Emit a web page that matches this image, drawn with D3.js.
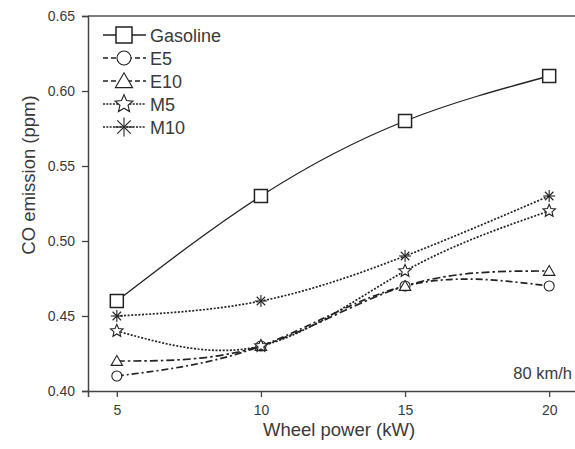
<!DOCTYPE html>
<html><head><meta charset="utf-8">
<script src="https://cdn.jsdelivr.net/npm/d3@7"></script>
<style>body{margin:0;background:#fff;} svg{display:block;font-family:"Liberation Sans",Arial,sans-serif;}</style>
</head><body>
<svg id="c" width="575" height="449"></svg>
<script>
const power = [5, 10, 15, 20];
const gasoline = [0.46, 0.53, 0.58, 0.61];
const e5 = [0.41, 0.43, 0.47, 0.47];
const e10 = [0.42, 0.43, 0.47, 0.48];
const m5 = [0.44, 0.43, 0.48, 0.52];
const m10 = [0.45, 0.46, 0.49, 0.53];
const seriesNames = ["Gasoline", "E5", "E10", "M5", "M10"];
const yTicks = [0.40, 0.45, 0.50, 0.55, 0.60, 0.65];
const xTicks = [5, 10, 15, 20];
const note = "80 km/h";

const svg = d3.select("#c");
const L = 88, T = 16, R = 578, B = 391;
const x = d3.scaleLinear().domain([4, 21]).range([L, R]);
const y = d3.scaleLinear().domain([0.40, 0.65]).range([B, T]);
const ink = "#222";
const txt = "#3a3a3a";

const series = [
  {name: seriesNames[0], vals: gasoline, dash: null, marker: "square"},
  {name: seriesNames[1], vals: e5, dash: "7,3,2,3", marker: "circle"},
  {name: seriesNames[2], vals: e10, dash: "8,3,2.5,3", marker: "triangle"},
  {name: seriesNames[3], vals: m5, dash: "2,1.6", marker: "star"},
  {name: seriesNames[4], vals: m10, dash: "2,1.6", marker: "asterisk"}
];

function drawMarker(g, type, cx, cy, s) {
  if (type === "square") {
    g.append("rect").attr("x", cx - s).attr("y", cy - s).attr("width", 2*s).attr("height", 2*s).attr("fill", "#fff").attr("stroke", ink).attr("stroke-width", 1.5);
  } else if (type === "circle") {
    g.append("circle").attr("cx", cx).attr("cy", cy).attr("r", s).attr("fill", "#fff").attr("stroke", ink).attr("stroke-width", 1.1);
  } else if (type === "triangle") {
    const h = s * 1.1;
    g.append("path").attr("d", `M${cx},${cy - h}L${cx + s*1.15},${cy + h*0.8}L${cx - s*1.15},${cy + h*0.8}Z`).attr("fill", "#fff").attr("stroke", ink).attr("stroke-width", 1.1);
  } else if (type === "star") {
    const pts = [];
    for (let i = 0; i < 10; i++) {
      const r = i % 2 === 0 ? s*1.1 : s*0.5;
      const a = -Math.PI/2 + i * Math.PI/5;
      pts.push([cx + r*Math.cos(a), cy + r*Math.sin(a)]);
    }
    g.append("path").attr("d", "M" + pts.map(p => p.join(",")).join("L") + "Z").attr("fill", "#fff").attr("stroke", ink).attr("stroke-width", 1.1);
  } else if (type === "asterisk") {
    for (let i = 0; i < 4; i++) {
      const a = i * Math.PI/4;
      g.append("line").attr("x1", cx - s*Math.cos(a)).attr("y1", cy - s*Math.sin(a)).attr("x2", cx + s*Math.cos(a)).attr("y2", cy + s*Math.sin(a)).attr("stroke", ink).attr("stroke-width", 1.1);
    }
  }
}

// frame
svg.append("line").attr("x1", L).attr("x2", R).attr("y1", T).attr("y2", T).attr("stroke", "#555").attr("stroke-width", 1.5);

// axes
const yAxis = svg.append("g").attr("transform", `translate(${L},0)`)
  .call(d3.axisLeft(y).tickValues(yTicks).tickFormat(d3.format(".2f")).tickSize(6).tickPadding(7));
const xAxis = svg.append("g").attr("transform", `translate(0,${B})`)
  .call(d3.axisBottom(x).tickValues(xTicks).tickSize(6).tickPadding(8));
[yAxis, xAxis].forEach(a => {
  a.select(".domain").attr("stroke", "#444").attr("stroke-width", 1.5);
  a.selectAll(".tick line").attr("stroke", "#444").attr("stroke-width", 1.3);
  a.selectAll(".tick text").attr("fill", txt).style("font-size", "14px").style("font-family", "Liberation Sans, Arial, sans-serif");
});

// axis labels
svg.append("text").attr("x", 339).attr("y", 436).attr("text-anchor", "middle").attr("fill", txt).style("font-size", "18.5px").text("Wheel power (kW)");
svg.append("text").attr("transform", "translate(35,175) rotate(-90)").attr("text-anchor", "middle").attr("fill", txt).style("font-size", "18.5px").text("CO emission (ppm)");

// lines
const line = d3.line().x((d, i) => x(power[i])).y(d => y(d)).curve(d3.curveNatural);
const gLines = svg.append("g");
series.forEach(s => {
  gLines.append("path").datum(s.vals).attr("d", line).attr("fill", "none").attr("stroke", ink)
    .attr("stroke-width", s.marker === "square" ? 1.3 : 1.7).attr("stroke-dasharray", s.dash);
});
const gMarks = svg.append("g");
series.forEach(s => {
  const size = s.marker === "square" ? 6.5 : s.marker === "circle" ? 5 : s.marker === "triangle" ? 5 : 6;
  s.vals.forEach((v, i) => drawMarker(gMarks, s.marker, x(power[i]), y(v), size));
});

// legend
const legY = [35, 58, 81, 104, 127];
const gLeg = svg.append("g");
series.forEach((s, i) => {
  const cy = legY[i];
  gLeg.append("line").attr("x1", 103).attr("x2", 146).attr("y1", cy).attr("y2", cy).attr("stroke", ink)
    .attr("stroke-width", 1.6).attr("stroke-dasharray", s.dash ? (s.marker === "star" || s.marker === "asterisk" ? "2,1.3" : "5,3") : null);
  const size = s.marker === "square" ? 8 : s.marker === "circle" ? 7 : s.marker === "triangle" ? 7.5 : s.marker === "star" ? 8.5 : 9.5;
  drawMarker(gLeg, s.marker, 124, cy, size);
  gLeg.append("text").attr("x", 150).attr("y", cy + 7).attr("fill", txt).style("font-size", "18px").text(s.name);
});

svg.append("text").attr("x", 572).attr("y", 379).attr("text-anchor", "end").attr("fill", txt).style("font-size", "16.5px").text(note);
</script>
</body></html>
